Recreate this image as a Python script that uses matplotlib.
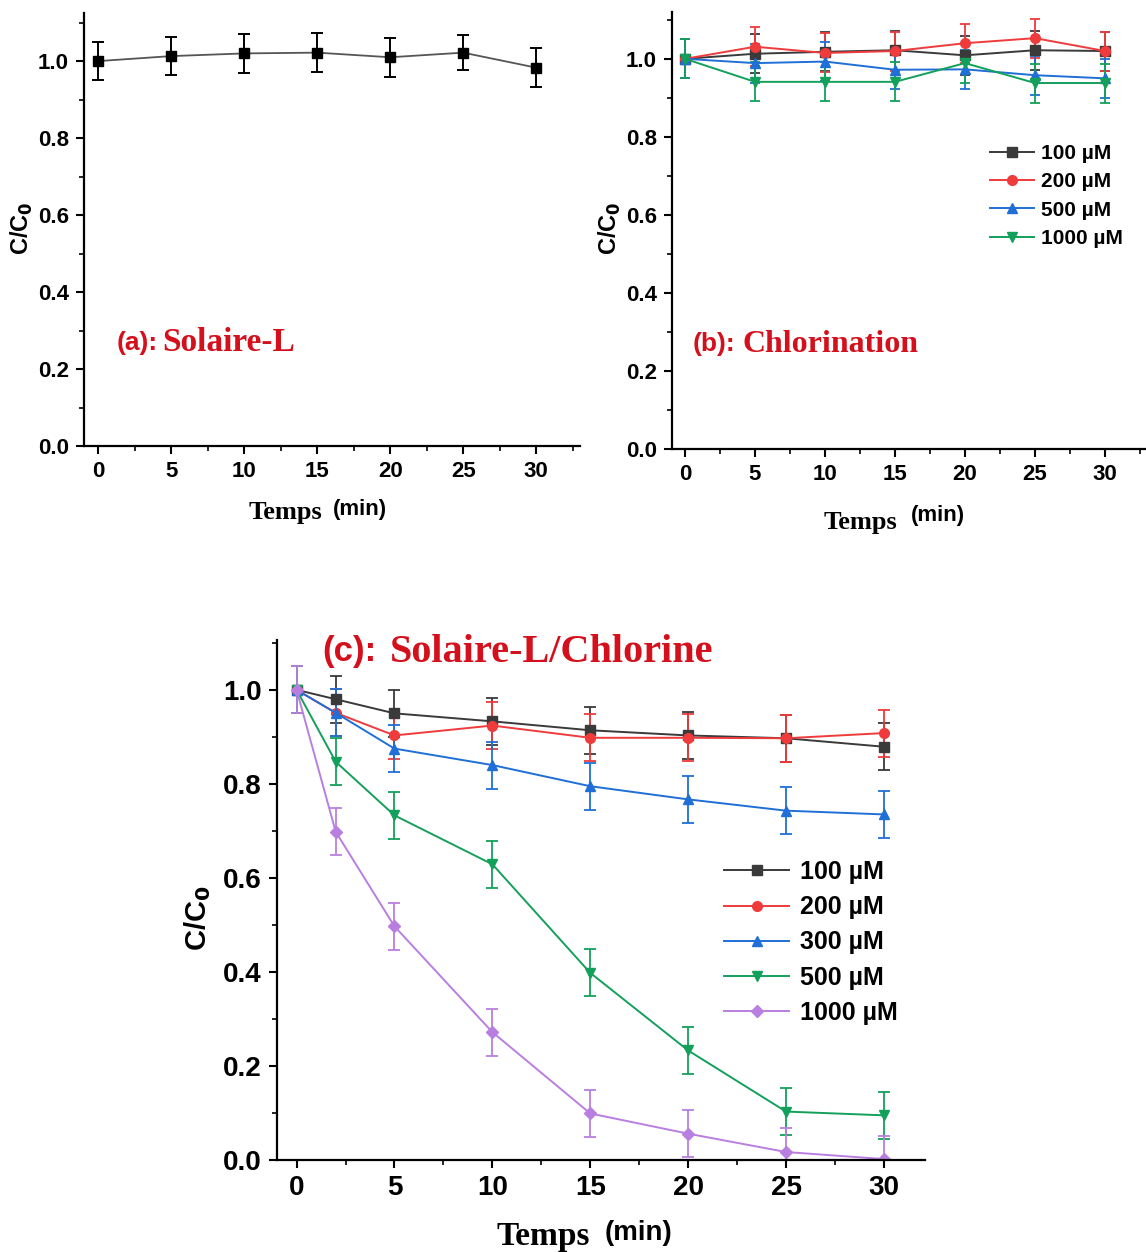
import matplotlib
matplotlib.use("Agg")
import matplotlib.pyplot as plt
from matplotlib.ticker import MultipleLocator

times_ab = [0, 5, 10, 15, 20, 25, 30]
times_c = [0, 2, 5, 10, 15, 20, 25, 30]

solaire = [1.0, 1.013, 1.02, 1.022, 1.01, 1.022, 0.983]
solaire_err = [0.05, 0.05, 0.05, 0.05, 0.05, 0.045, 0.05]

chlor_labels = ["100 µM", "200 µM", "500 µM", "1000 µM"]
chlor_100 = [1.0, 1.013, 1.018, 1.022, 1.009, 1.022, 1.02]
chlor_200 = [1.0, 1.031, 1.015, 1.02, 1.04, 1.053, 1.02]
chlor_500 = [1.0, 0.989, 0.993, 0.972, 0.973, 0.958, 0.95]
chlor_1000 = [1.0, 0.941, 0.941, 0.941, 0.989, 0.938, 0.938]
chlor_err = [0.05, 0.05, 0.05, 0.05, 0.05, 0.05, 0.05]

mix_labels = ["100 µM", "200 µM", "300 µM", "500 µM", "1000 µM"]
mix_100 = [1.0, 0.98, 0.95, 0.933, 0.914, 0.903, 0.897, 0.879]
mix_200 = [1.0, 0.951, 0.903, 0.924, 0.898, 0.898, 0.897, 0.908]
mix_300 = [1.0, 0.951, 0.875, 0.84, 0.795, 0.767, 0.743, 0.735]
mix_500 = [1.0, 0.847, 0.733, 0.629, 0.398, 0.233, 0.103, 0.095]
mix_1000 = [1.0, 0.698, 0.497, 0.272, 0.099, 0.056, 0.017, 0.002]
mix_err = [0.05, 0.05, 0.05, 0.05, 0.05, 0.05, 0.05, 0.05]

W, H = 1146, 1252
SANS = ["Liberation Sans", "DejaVu Sans"]
SERIF = ["Liberation Serif", "DejaVu Serif"]
RED = "#d4101c"
colors = {"black": "#3a3a3a", "red": "#ef3b3b", "blue": "#1f6fd6",
          "green": "#13a05a", "purple": "#b97fe0"}


def box(left, right, top, bottom):
    return [left / W, 1 - bottom / H, (right - left) / W, (bottom - top) / H]


def style_axes(ax, xlim, ylim, size):
    ax.set_xlim(*xlim)
    ax.set_ylim(*ylim)
    ax.spines["top"].set_visible(False)
    ax.spines["right"].set_visible(False)
    for side in ("left", "bottom"):
        ax.spines[side].set_linewidth(1.6)
    ax.xaxis.set_major_locator(MultipleLocator(5))
    ax.xaxis.set_minor_locator(MultipleLocator(2.5))
    ax.yaxis.set_major_locator(MultipleLocator(0.2))
    ax.yaxis.set_minor_locator(MultipleLocator(0.1))
    ax.tick_params(which="major", direction="out", length=6, width=1.5, labelsize=size, pad=5)
    ax.tick_params(which="minor", direction="out", length=3.5, width=1.2)
    for lab in ax.get_xticklabels() + ax.get_yticklabels():
        lab.set_family(SANS)
        lab.set_fontweight("bold")


def labels(fig, temps_xy, min_xy, ylab_xy, temps_size, min_size, y_size):
    fig.text(temps_xy[0] / W, 1 - temps_xy[1] / H, "Temps", family=SERIF, fontweight="bold",
             fontsize=temps_size, ha="center", va="center")
    fig.text(min_xy[0] / W, 1 - min_xy[1] / H, "(min)", family=SANS, fontweight="bold",
             fontsize=min_size, ha="center", va="center")
    fig.text(ylab_xy[0] / W, 1 - ylab_xy[1] / H, "C/C$_\\mathbf{0}$", family=SANS,
             fontweight="bold", fontsize=y_size, rotation=90, ha="center", va="center")


def panel_title(fig, tag_xy, tag, name_x, name, tag_size, size):
    fig.text(tag_xy[0] / W, 1 - tag_xy[1] / H, tag, family=SANS, fontweight="bold",
             fontsize=tag_size, color=RED, ha="left", va="center")
    fig.text(name_x / W, 1 - tag_xy[1] / H, name, family=SERIF, fontweight="bold",
             fontsize=size, color=RED, ha="left", va="center")


fig = plt.figure(figsize=(W / 100, H / 100), dpi=100)

# (a) Solaire-L alone
ax_a = fig.add_axes(box(84, 580, 13, 446))
ax_a.errorbar(times_ab, solaire, yerr=solaire_err, color="#555555", lw=1.3, marker="s",
              ms=7, mfc="black", mec="black", ecolor="black", elinewidth=1.4, capsize=4,
              capthick=1.4)
style_axes(ax_a, (-0.96, 33.0), (0, 1.125), 16)
labels(fig, (285, 512), (360, 510), (22, 228), 19, 16, 17)
panel_title(fig, (117, 343), "(a):", 162, "Solaire-L", 19, 24)

# (b) chlorination alone
ax_b = fig.add_axes(box(672, 1146, 12, 449))
series_b = [(chlor_100, "black", "s"), (chlor_200, "red", "o"),
            (chlor_500, "blue", "^"), (chlor_1000, "green", "v")]
handles_b = []
for (vals, c, m), lab in zip(series_b, chlor_labels):
    eb = ax_b.errorbar(times_ab, vals, yerr=chlor_err, color=colors[c], lw=1.4, marker=m,
                       ms=7, elinewidth=1.3, capsize=3.5, capthick=1.3, label=lab)
    handles_b.append(eb[0])
style_axes(ax_b, (-0.93, 32.93), (0, 1.12), 16)
labels(fig, (860, 523), (938, 516), (610, 228), 19, 16, 17)
panel_title(fig, (693, 344), "(b):", 742, "Chlorination", 19, 23)
ax_b.legend(handles_b, chlor_labels, loc="upper left", bbox_to_anchor=(990 / W, 1 - 144 / H),
            bbox_transform=fig.transFigure, frameon=False, borderpad=0, borderaxespad=0,
            handlelength=2.1, handletextpad=0.35, labelspacing=0.45,
            prop={"family": SANS, "weight": "bold", "size": 15})

# (c) combined Solaire-L / chlorine
ax_c = fig.add_axes(box(277, 925, 640, 1160))
series_c = [(mix_100, "black", "s", 6.5), (mix_200, "red", "o", 7),
            (mix_300, "blue", "^", 7.5), (mix_500, "green", "v", 7.5),
            (mix_1000, "purple", "D", 6)]
handles_c = []
for (vals, c, m, size), lab in zip(series_c, mix_labels):
    eb = ax_c.errorbar(times_c, vals, yerr=mix_err, color=colors[c], lw=1.4, marker=m,
                       ms=size, elinewidth=1.3, capsize=4, capthick=1.3, label=lab)
    handles_c.append(eb[0])
style_axes(ax_c, (-1.0, 32.1), (0, 1.106), 20)
labels(fig, (543, 1236), (638, 1233), (198, 918), 24, 20, 21)
panel_title(fig, (322, 652), "(c):", 390, "Solaire-L/Chlorine", 25, 29)
ax_c.legend(handles_c, mix_labels, loc="upper left", bbox_to_anchor=(724 / W, 1 - 860 / H),
            bbox_transform=fig.transFigure, frameon=False, borderpad=0, borderaxespad=0,
            handlelength=2.6, handletextpad=0.45, labelspacing=0.45,
            prop={"family": SANS, "weight": "bold", "size": 18})

fig.savefig("out.png", dpi=100)
